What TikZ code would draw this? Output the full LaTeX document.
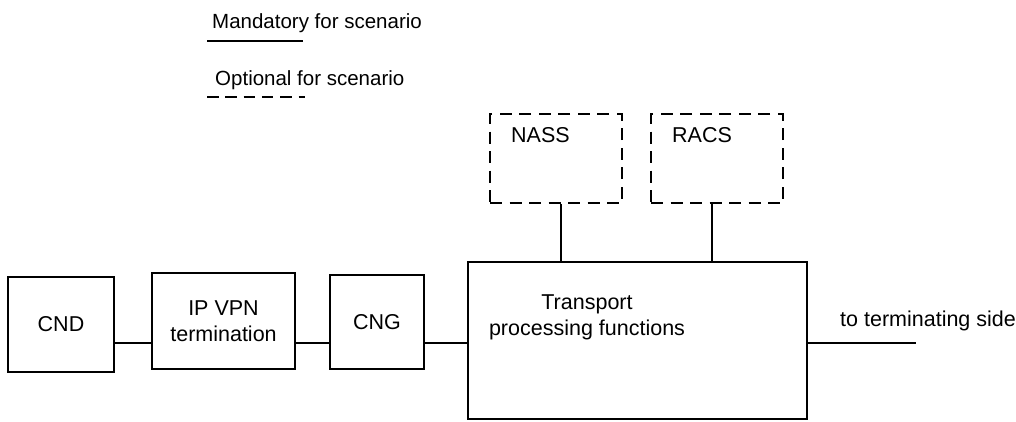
\documentclass[tikz,border=0pt]{standalone}
\usepackage{fontspec}
\setmainfont{Liberation Sans}
\begin{document}
\begin{tikzpicture}[x=1pt,y=-1pt,
  box/.style={draw,line width=1.7pt,inner sep=0pt,font=\fontsize{21.5}{26}\selectfont,align=center},
  optbox/.style={draw,line width=1.7pt,dash pattern=on 12pt off 7.5pt,inner sep=0pt},
  link/.style={line width=1.7pt},
  lbl/.style={inner sep=0pt,font=\fontsize{21.5}{26}\selectfont},
  leg/.style={inner sep=0pt,font=\fontsize{20.5}{24}\selectfont,anchor=base west}]
\useasboundingbox (0,0) rectangle (1016,421);
% legend
\node[leg] (mand) at (212,28) {Mandatory for scenario};
\draw[link] (207,41) -- (303,41);
\node[leg] (opt) at (215,85) {Optional for scenario};
\draw[link,dash pattern=on 11.5pt off 6.8pt] (207,97) -- (305,97);
% boxes
\node[box,minimum width=106pt,minimum height=95pt] (cnd) at (61,324.5) {CND};
\node[box,minimum width=143pt,minimum height=96pt] (ipvpn) at (223.5,321) {IP VPN\\termination};
\node[box,minimum width=94pt,minimum height=94pt] (cng) at (377,322) {CNG};
\node[draw,line width=1.7pt,inner sep=0pt,minimum width=339pt,minimum height=157pt] (tpf) at (637.5,340.5) {};
\node[lbl,align=center] (tpftext) at (587,317) {Transport\\processing functions};
\node[optbox,minimum width=132pt,minimum height=89pt] (nass) at (556,158.5) {};
\node[optbox,minimum width=132pt,minimum height=89pt] (racs) at (717,158.5) {};
\node[lbl,anchor=base west] (nasstext) at (511,142) {NASS};
\node[lbl,anchor=base west] (racstext) at (672,142) {RACS};
\node[lbl,anchor=base west] (term) at (840,326) {to terminating side};
\coordinate (tend) at (916,343);
% connectors
\draw[link] (cnd.east |- 0,343) -- (ipvpn.west |- 0,343);
\draw[link] (ipvpn.east |- 0,343) -- (cng.west |- 0,343);
\draw[link] (cng.east |- 0,343) -- (tpf.west |- 0,343);
\draw[link] (tpf.east |- 0,343) -- (tend);
\draw[link] (nass.south -| 561,0) -- (tpf.north -| 561,0);
\draw[link] (racs.south -| 712,0) -- (tpf.north -| 712,0);
\end{tikzpicture}
\end{document}
